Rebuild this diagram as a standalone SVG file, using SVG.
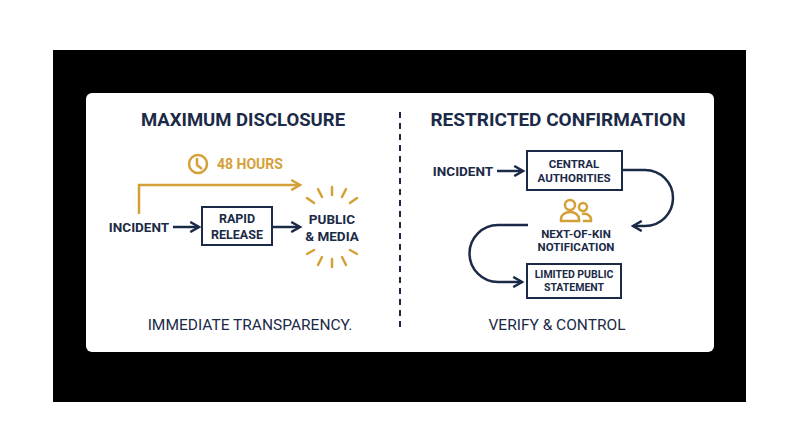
<svg xmlns="http://www.w3.org/2000/svg" width="800" height="447" viewBox="0 0 800 447">
<defs>
<style>
.t{font-family:Roboto,"Liberation Sans",sans-serif;font-weight:700;fill:#1b2a47;text-anchor:middle}
.n{font-family:Roboto,"Liberation Sans",sans-serif;fill:#1b2a47;text-anchor:middle;font-size:15.5px}
.b{fill:#fff;stroke:#1b2a47;stroke-width:2}
.c{fill:none;stroke:#1b2a47;stroke-width:2.5}
.g{fill:none;stroke:#d4a038;stroke-width:2.5}
</style>
<marker id="an" viewBox="0 0 10 10" refX="8" refY="5" markerWidth="5" markerHeight="5" orient="auto"><path d="M1,1 L8,5 L1,9" fill="none" stroke="#1b2a47" stroke-width="2"/></marker>
<marker id="ag" viewBox="0 0 10 10" refX="8" refY="5" markerWidth="5" markerHeight="5" orient="auto"><path d="M1,1 L8,5 L1,9" fill="none" stroke="#d4a038" stroke-width="2"/></marker>
</defs>
<rect width="800" height="447" fill="#fff"/>
<rect x="53" y="50" width="693" height="352" fill="#000"/>
<rect x="86" y="93" width="628" height="259" rx="6" fill="#fff"/>
<line x1="400" y1="112" x2="400" y2="332" stroke="#1b2a47" stroke-width="2" stroke-dasharray="6,5"/>
<text class="t" x="243" y="126" font-size="18.5">MAXIMUM DISCLOSURE</text>
<text class="t" x="558" y="126" font-size="19">RESTRICTED CONFIRMATION</text>
<g id="clock"><circle cx="198" cy="164" r="9" class="g" stroke-width="2"/><path d="M197,158 L197,165 L202,169" class="g" stroke-width="2"/>
<text x="217" y="169" font-family="Roboto,'Liberation Sans',sans-serif" font-weight="700" font-size="14" fill="#d4a038">48 HOURS</text></g>
<g id="connectors">
<path d="M139,214 L139,185 L300,185" class="g" marker-end="url(#ag)"/>
<line x1="173" y1="227" x2="199" y2="227" class="c" marker-end="url(#an)"/>
<line x1="272" y1="227" x2="300" y2="227" class="c" marker-end="url(#an)"/>
<line x1="497" y1="171" x2="523" y2="171" class="c" marker-end="url(#an)"/>
<path d="M622,170 L645,170 A28,28 0 0 1 645,226 L633,226" class="c" marker-end="url(#an)"/>
<path d="M528,225 L498,225 A28,28 0 0 0 498,282 L522,282" class="c" marker-end="url(#an)"/>
</g>
<g id="incident1"><text class="t" x="139" y="232" font-size="13.5">INCIDENT</text></g>
<g id="rapid"><rect class="b" x="202" y="207" width="70" height="38"/><text class="t" x="237" y="223" font-size="12.5">RAPID</text><text class="t" x="237" y="239" font-size="12.5">RELEASE</text></g>
<g id="public"><text class="t" x="332" y="224" font-size="13.5">PUBLIC</text><text class="t" x="332" y="241" font-size="13.5">&amp; MEDIA</text>
<g stroke="#d4a038" stroke-width="2.5" stroke-linecap="round">
<line x1="332" y1="187" x2="332" y2="195"/><line x1="318" y1="189" x2="322" y2="197"/><line x1="346" y1="189" x2="342" y2="197"/><line x1="307" y1="198" x2="314" y2="203"/><line x1="357" y1="198" x2="350" y2="203"/>
<line x1="332" y1="259" x2="332" y2="267"/><line x1="318" y1="265" x2="322" y2="257"/><line x1="346" y1="265" x2="342" y2="257"/><line x1="307" y1="254" x2="314" y2="250"/><line x1="357" y1="254" x2="350" y2="250"/>
</g></g>
<g id="incident2"><text class="t" x="463" y="176" font-size="13.5">INCIDENT</text></g>
<g id="central"><rect class="b" x="527" y="151" width="95" height="39"/><text class="t" x="574" y="168" font-size="11.5">CENTRAL</text><text class="t" x="574" y="182" font-size="11.5">AUTHORITIES</text></g>
<g id="kin"><g class="g" stroke-width="2"><circle cx="570" cy="205" r="5"/><path d="M561,221 v-2 a9,7 0 0 1 18,0 v2 z"/><circle cx="583" cy="207" r="4"/><path d="M582,214 a7,6 0 0 1 9,5 v2 h-8"/></g>
<text class="t" x="576" y="238" font-size="11.5">NEXT-OF-KIN</text><text class="t" x="576" y="251" font-size="11.5">NOTIFICATION</text></g>
<g id="limited"><rect class="b" x="527" y="264" width="94" height="34"/><text class="t" x="574" y="278" font-size="10.5">LIMITED PUBLIC</text><text class="t" x="574" y="291" font-size="10.5">STATEMENT</text></g>
<text class="n" x="250" y="330">IMMEDIATE TRANSPARENCY.</text>
<text class="n" x="557" y="330">VERIFY &amp; CONTROL</text>
</svg>
